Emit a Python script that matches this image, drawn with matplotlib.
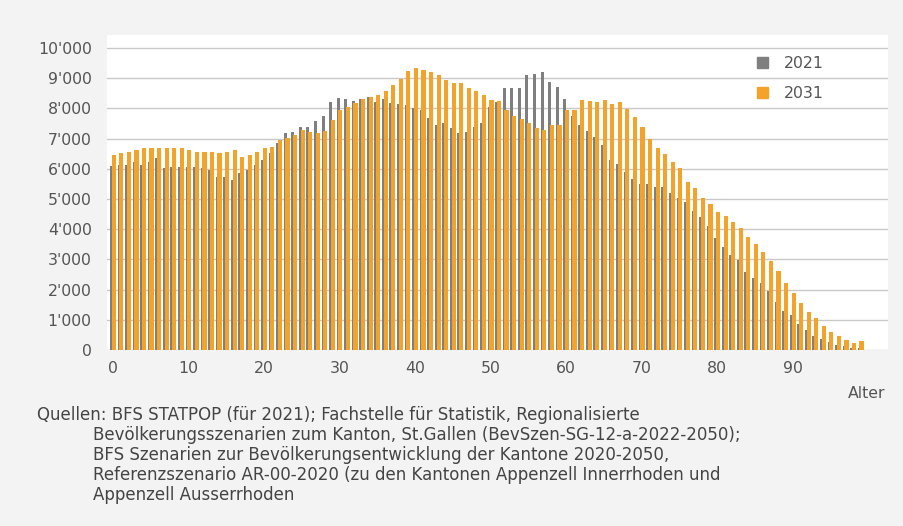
import matplotlib
matplotlib.use("Agg")
import matplotlib.pyplot as plt
from matplotlib.ticker import FuncFormatter
from matplotlib.patches import Patch
import numpy as np

ages = list(range(100))
pop_2021 = [6090, 6130, 6130, 6240, 6130, 6240, 6350, 6020, 6070, 6070,
            6070, 6070, 6020, 5960, 5740, 5740, 5630, 5850, 5960, 6130,
            6290, 6510, 6840, 7180, 7230, 7370, 7370, 7580, 7750, 8200,
            8340, 8300, 8250, 8300, 8390, 8200, 8300, 8170, 8150, 8120,
            8000, 7950, 7670, 7450, 7500, 7340, 7180, 7230, 7400, 7500,
            8060, 8220, 8680, 8680, 8680, 9100, 9150, 9210, 8880, 8720,
            8300, 7750, 7450, 7250, 7050, 6800, 6300, 6150, 5900, 5650,
            5480, 5480, 5400, 5400, 5190, 5020, 4890, 4600, 4420, 4120,
            3700, 3420, 3150, 2980, 2570, 2400, 2210, 1950, 1600, 1300,
            1150, 850, 650, 480, 370, 260, 180, 120, 80, 60]
pop_2031 = [6460, 6510, 6570, 6620, 6680, 6680, 6680, 6680, 6680, 6680,
            6620, 6570, 6570, 6570, 6510, 6570, 6620, 6400, 6460, 6570,
            6680, 6730, 6960, 7010, 7120, 7300, 7230, 7200, 7250, 7620,
            7950, 8060, 8170, 8300, 8370, 8440, 8590, 8780, 8960, 9230,
            9330, 9270, 9200, 9110, 8940, 8840, 8830, 8670, 8560, 8450,
            8280, 8260, 7950, 7750, 7640, 7510, 7340, 7280, 7450, 7450,
            7950, 7950, 8270, 8230, 8200, 8280, 8140, 8210, 7970, 7700,
            7370, 6980, 6700, 6480, 6220, 6030, 5550, 5380, 5020, 4820,
            4560, 4450, 4230, 4050, 3750, 3500, 3250, 2950, 2600, 2210,
            1880, 1550, 1270, 1050, 800, 610, 450, 330, 220, 300]
series_names = ["2021", "2031"]
x_ticks = list(range(0, 100, 10))
y_ticks = list(range(0, 10001, 1000))

COL_2021 = "#7f7f7f"
COL_2031 = "#f3a22a"
TXT = "#555555"
FONT = "DejaVu Sans"
FS = 11.3

W, H = 904, 526
fig = plt.figure(figsize=(W / 100, H / 100), dpi=100, facecolor="#f3f3f3")
ax = fig.add_axes([107 / W, 1 - 350 / H, (888 - 107) / W, (350 - 35) / H])
ax.set_facecolor("white")

x = np.array(ages)
ax.bar(x - 0.2, pop_2021, width=0.40, color=COL_2021, zorder=2, linewidth=0)
ax.bar(x + 0.1, pop_2031, width=0.55, color=COL_2031, zorder=3, linewidth=0)

ax.set_xlim(-0.8, 102.6)
ax.set_ylim(0, 10430)
ax.set_yticks(y_ticks)
ax.set_xticks(x_ticks)
ax.yaxis.set_major_formatter(FuncFormatter(lambda v, p: f"{int(v):,}".replace(",", "'")))
ax.grid(axis="y", color="#c8c8c8", linewidth=1, zorder=0)
ax.set_axisbelow(True)
for s in ax.spines.values():
    s.set_visible(False)
ax.tick_params(axis="both", length=0, labelsize=FS, labelcolor=TXT)
ax.tick_params(axis="y", pad=11)
ax.tick_params(axis="x", pad=8)
for lab in ax.get_xticklabels() + ax.get_yticklabels():
    lab.set_fontfamily(FONT)

handles = [Patch(color=COL_2021), Patch(color=COL_2031)]
leg = fig.legend(handles, series_names, loc="upper left",
                 bbox_to_anchor=(757 / W, 1 - 56 / H), bbox_transform=fig.transFigure,
                 frameon=False, borderpad=0, borderaxespad=0,
                 handlelength=0.7, handleheight=0.7, handletextpad=1.0,
                 labelspacing=0.95, prop={"family": FONT, "size": FS})
for t in leg.get_texts():
    t.set_color(TXT)

fig.text(885 / W, 1 - 393 / H, "Alter", ha="right", va="center",
         fontsize=FS, color=TXT, family=FONT)

src_lines = [
    "Quellen: BFS STATPOP (für 2021); Fachstelle für Statistik, Regionalisierte",
    "Bevölkerungsszenarien zum Kanton, St.Gallen (BevSzen-SG-12-a-2022-2050);",
    "BFS Szenarien zur Bevölkerungsentwicklung der Kantone 2020-2050,",
    "Referenzszenario AR-00-2020 (zu den Kantonen Appenzell Innerrhoden und",
    "Appenzell Ausserrhoden",
]
for i, line in enumerate(src_lines):
    xpos = 37 if i == 0 else 93
    fig.text(xpos / W, 1 - (415 + 20 * i) / H, line, ha="left", va="center",
             fontsize=12, color="#444444", family=FONT)

fig.savefig("out.png", dpi=100, facecolor=fig.get_facecolor())
